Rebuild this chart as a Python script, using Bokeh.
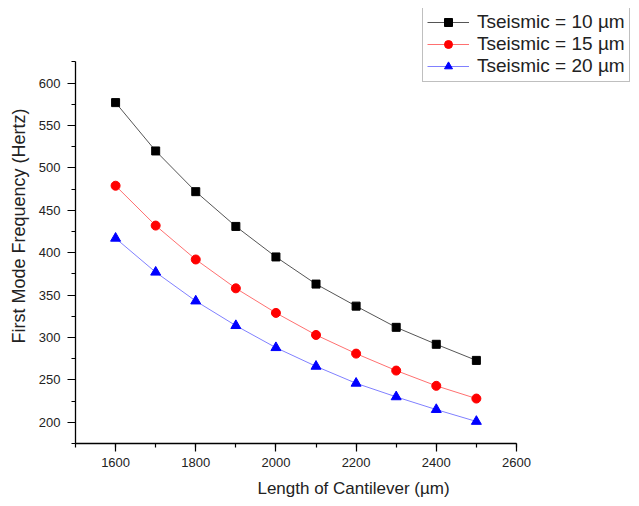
from bokeh.plotting import figure
from bokeh.models import Range1d, SingleIntervalTicker, Legend, LegendItem
from bokeh.embed import file_html
from bokeh.resources import INLINE

lengths = [1600, 1700, 1800, 1900, 2000, 2100, 2200, 2300, 2400, 2500]
freq_10 = [577, 520, 472, 431, 395, 363, 337, 312, 292, 273]
freq_15 = [479, 432, 392, 358, 329, 303, 281, 261, 243, 228]
freq_20 = [417, 377, 343, 314, 288, 266, 246, 230, 215, 201]
labels = ["Tseismic = 10 µm", "Tseismic = 15 µm", "Tseismic = 20 µm"]

FONT = "Liberation Sans"

p = figure(width=631, height=500, output_backend="svg", toolbar_location=None,
           x_range=Range1d(1500, 2887), y_range=Range1d(175, 688),
           min_border_left=75, min_border_right=0, min_border_top=8, min_border_bottom=54)
p.outline_line_color = None
p.xgrid.visible = False
p.ygrid.visible = False
p.background_fill_color = "white"
p.border_fill_color = "white"

p.xaxis.ticker = SingleIntervalTicker(interval=200, num_minor_ticks=2)
p.yaxis.ticker = SingleIntervalTicker(interval=50, num_minor_ticks=2)
p.xaxis.bounds = (1500, 2600)
p.yaxis.bounds = (175, 625)
for ax in (p.xaxis, p.yaxis):
    ax.axis_line_color = "black"
    ax.axis_line_width = 1.3
    ax.major_tick_in = 0
    ax.major_tick_out = 8
    ax.minor_tick_in = 0
    ax.minor_tick_out = 4
    ax.major_tick_line_color = "black"
    ax.minor_tick_line_color = "black"
    ax.major_tick_line_width = 1.2
    ax.minor_tick_line_width = 1.2
    ax.major_label_text_font = FONT
    ax.major_label_text_font_size = "13px"
    ax.major_label_text_color = "#222222"
    ax.axis_label_text_font = FONT
    ax.axis_label_text_font_style = "normal"
    ax.axis_label_text_color = "#222222"
p.xaxis.axis_label = "Length of Cantilever (µm)"
p.yaxis.axis_label = "First Mode Frequency (Hertz)"
p.xaxis.axis_label_text_font_size = "17px"
p.yaxis.axis_label_text_font_size = "18px"
p.xaxis.major_label_standoff = 6
p.yaxis.major_label_standoff = 7
p.xaxis.axis_label_standoff = 9
p.yaxis.axis_label_standoff = 7

l1 = p.line(lengths, freq_10, line_color="#555555", line_width=1)
s1 = p.scatter(lengths, freq_10, marker="square", size=8, fill_color="black", line_color="black")
l2 = p.line(lengths, freq_15, line_color="#ff7070", line_width=1)
s2 = p.scatter(lengths, freq_15, marker="circle", size=9, fill_color="#ff0000", line_color="#ff0000")
l3 = p.line(lengths, freq_20, line_color="#8080ff", line_width=1)
s3 = p.scatter(lengths, freq_20, marker="triangle", size=10, fill_color="#0000ff", line_color="#0000ff")

legend = Legend(items=[LegendItem(label=labels[0], renderers=[l1, s1]),
                       LegendItem(label=labels[1], renderers=[l2, s2]),
                       LegendItem(label=labels[2], renderers=[l3, s3])],
                location=(347, 361))
legend.label_text_font = FONT
legend.label_text_font_size = "19px"
legend.label_text_color = "#222222"
legend.glyph_width = 42
legend.glyph_height = 20
legend.label_height = 20
legend.label_standoff = 8
legend.spacing = 0
legend.padding = 4
legend.margin = 0
legend.border_line_color = "#808080"
legend.border_line_width = 1.5
legend.background_fill_alpha = 1
p.add_layout(legend, "center")

open("out.html", "w").write(file_html(p, INLINE))
